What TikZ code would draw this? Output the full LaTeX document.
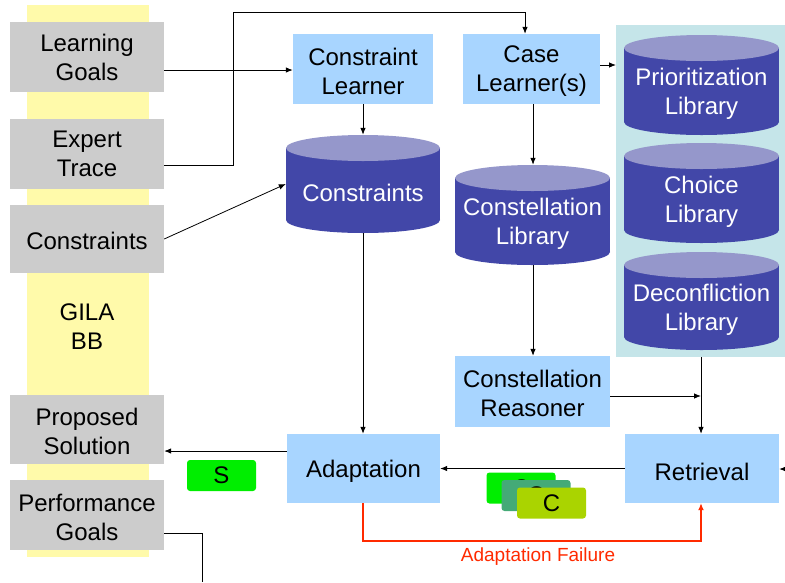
\documentclass[tikz,border=0pt]{standalone}
\usepackage{fontspec}
\setmainfont{Liberation Sans}
\usetikzlibrary{arrows.meta}

\definecolor{bandyellow}{HTML}{FFFAAA}
\definecolor{boxgray}{HTML}{CCCCCC}
\definecolor{procblue}{HTML}{A8D5FF}
\definecolor{dbbody}{HTML}{4247A8}
\definecolor{dbtop}{HTML}{9597CB}
\definecolor{panelteal}{HTML}{C5E5E9}
\definecolor{tokgreen}{HTML}{00EE00}
\definecolor{tokteal}{HTML}{44AA77}
\definecolor{toklime}{HTML}{AAD400}
\definecolor{failred}{HTML}{FF2A00}

\tikzset{
  bbitem/.style={fill=boxgray, inner sep=0pt, align=center, minimum width=154, minimum height=70},
  procbox/.style={fill=procblue, inner sep=0pt, align=center, minimum height=70},
  boxtext/.style={inner sep=0pt, align=center},
  dbcap/.style={inner sep=0pt},
  dbtext/.style={text=white, align=center, inner sep=0pt},
  token/.style={rounded corners=3pt, inner sep=0pt, minimum width=69, minimum height=31},
  flow/.style={line width=0.8pt, -{Latex[length=7pt,width=5.5pt]}},
  wire/.style={line width=0.8pt},
}

% database drum: name, left, top, right, bottom, label
\newcommand\dbdrum[6]{%
  \fill[dbbody] ({(#2+#4)/2},{#5-13}) ellipse [x radius={(#4-#2)/2}, y radius=13];
  \fill[dbbody] (#2,{#3+13}) rectangle (#4,{#5-13});
  \fill[dbtop] ({(#2+#4)/2},{#3+13}) ellipse [x radius={(#4-#2)/2}, y radius=13];
  \node[dbcap, minimum width={#4-#2}, minimum height={#5-#3}] (#1) at ({(#2+#4)/2},{(#3+#5)/2}) {};
  \node[dbtext] (#1-label) at ({(#2+#4)/2},{(#3+#5)/2+9}) {#6};
}

\begin{document}
\begin{tikzpicture}[x=1pt, y=-1pt, font=\fontsize{24}{29}\selectfont]
\useasboundingbox (0,0) rectangle (785,582);

% blackboard band
\fill[bandyellow] (27,5) rectangle (149,557);
\node (bbname) at (87,327) [align=center] {GILA\\BB};

\node[bbitem] (lgoals) at (87,57)    {Learning\\Goals};
\node[bbitem] (etrace) at (87,154)   {Expert\\Trace};
\node[bbitem, minimum height=68] (cinput) at (87,239)   {};
\node[boxtext] (cinput-label) at (87,241) {Constraints};
\node[bbitem, minimum height=69] (psol)   at (87,429.5) {};
\node[boxtext] (psol-label) at (87,431) {Proposed\\Solution};
\node[bbitem] (pgoals) at (87,515)   {};
\node[boxtext] (pgoals-label) at (87,517) {Performance\\Goals};

% learners
\node[procbox, minimum width=140] (clearn) at (363,69)   {};
\node[boxtext] (clearn-label) at (363,71) {Constraint\\Learner};
\node[procbox, minimum width=137] (kLearn) at (531.5,69) {};
\node[boxtext] (kLearn-label) at (531.5,71) {Case\\Learner(s)};

% case library panel
\fill[panelteal] (616,25) rectangle (785,357);
\coordinate (panelS) at (701,357);
\coordinate (panelW) at (616,65);

\dbdrum{cdb}{286}{135}{440}{233}{Constraints}
\dbdrum{constdb}{455}{165}{610}{265}{Constellation\\Library}
\dbdrum{prio}{624}{35}{779}{135}{Prioritization\\Library}
\dbdrum{choice}{624}{143}{779}{243}{Choice\\Library}
\dbdrum{deconf}{624}{252}{779}{350}{Deconfliction\\Library}

% reasoning components
\node[procbox, minimum width=155, minimum height=71] (creason) at (532.5,391.5) {};
\node[boxtext] (creason-label) at (532.5,393.5) {Constellation\\Reasoner};
\node[procbox, minimum width=153, minimum height=69] (adapt) at (363.5,468.5) {};
\node[boxtext] (adapt-label) at (363.5,471.5) {Adaptation};
\node[procbox, minimum width=154, minimum height=69] (retr)  at (702,468.5) {};
\node[boxtext] (retr-label) at (702,471.5) {Retrieval};

% solution / case tokens
\node[token, fill=tokgreen] (tokS) at (221.5,475.5) {S};
\node[token, fill=tokgreen] (tokC1) at (521,488) {C};
\node[token, fill=tokteal]  (tokC2) at (536,495.5) {C};
\node[token, fill=toklime]  (tokC3) at (551.5,503) {C};

% connectors
\draw[flow] (lgoals.east |- 0,70) -- (clearn.west |- 0,70);
\draw[flow] (etrace.east |- 0,165) -- (233,165) -- (233,12) -- (525,12) -- (kLearn.north -| 525,0);
\draw[flow] (cinput.east) -- (cdb.west |- 0,184);
\draw[flow] (clearn.south) -- (cdb.north -| clearn.south);
\draw[flow] (kLearn.south -| 533,0) -- (constdb.north -| 533,0);
\draw[flow] (kLearn.east |- panelW) -- (panelW);
\draw[flow] (constdb.south -| 533,0) -- (creason.north -| 533,0);
\draw[flow] (cdb.south -| 363,0) -- (adapt.north -| 363,0);
\draw[flow] (panelS) -- (retr.north -| panelS);
\draw[flow] (creason.east |- 0,396) -- (panelS |- 0,396);
\coordinate (rightin) at (785,469);
\draw[flow] (rightin) -- (retr.east |- rightin);
\draw[flow] (retr.west) -- (adapt.east);
\draw[flow] (adapt.west |- 0,451) -- (psol.east |- 0,451);
\coordinate (pgoalsout) at (202,582);
\draw[wire] (pgoals.east |- 0,533) -- (202,533) -- (pgoalsout);

% adaptation failure loop
\draw[draw=failred, line width=1.3pt, -{Latex[length=7pt,width=6pt]}]
  (adapt.south -| 363,0) -- (363,541) -- (701,541) -- (retr.south -| 701,0);
\node[text=failred, font=\fontsize{19}{22}\selectfont] (failtxt) at (538,557) {Adaptation Failure};

\end{tikzpicture}
\end{document}
